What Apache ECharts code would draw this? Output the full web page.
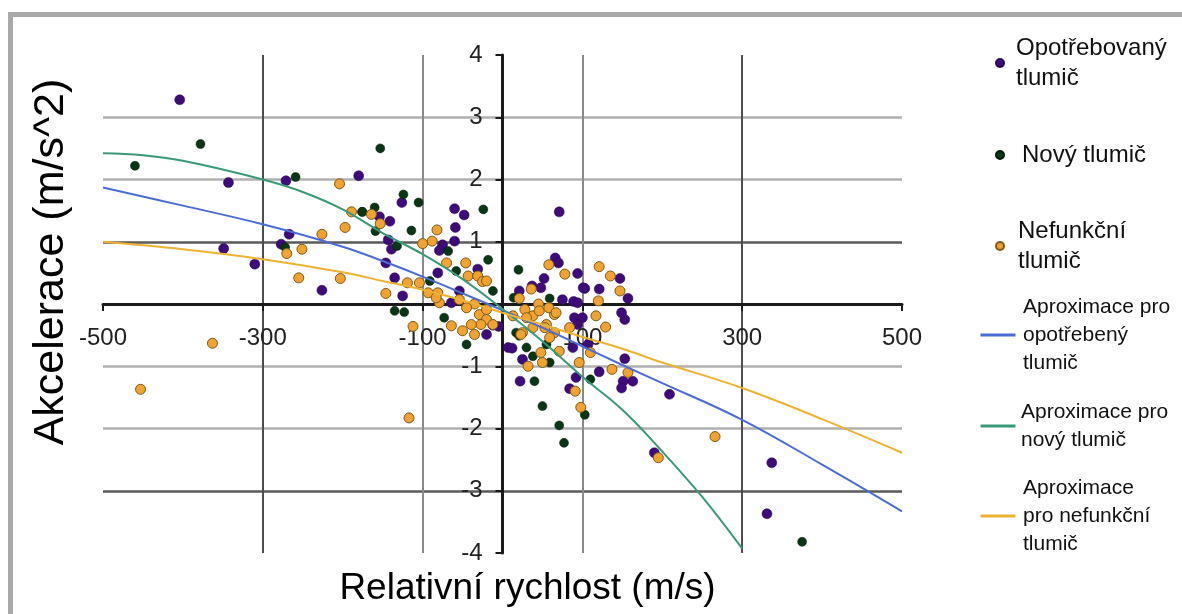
<!DOCTYPE html>
<html><head><meta charset="utf-8">
<script src="https://cdn.jsdelivr.net/npm/echarts@6/dist/echarts.min.js"></script>
<style>html,body{margin:0;padding:0;background:#fff}#c{width:1182px;height:614px}</style>
</head><body><div id="c"></div>
<script>
// ---- data ----
const wornPoints = [[-404,3.28],[-343,1.95],[-271,1.98],[-180,2.06],[-267,1.12],[-277,0.96],[-349,0.89],[-310,0.64],[-226,0.22],
[-126,1.63],[-60,1.53],[-48,1.43],[-154,1.40],[-141,1.33],[-59,1.23],[-60,1.01],[-143,1.03],[-139,0.88],[-75,0.95],[-79,0.86],[-146,0.66],[-135,0.42],[-125,0.13],[-81,0.50],[-31,0.56],[-54,0.21],
[-64,0.02],[-20,-0.49],[-12,-0.34],[-5,-0.36],[7,-0.70],
[71,1.48],[66,0.74],[70,0.66],[94,0.49],[52,0.41],[103,0.25],[121,0.24],[48,0.26],[21,0.21],[37,0.29],[147,0.41],[157,0.09],[75,0.07],[89,0.04],
[12,-0.71],[25,-0.89],[22,-1.24],[90,-0.22],[100,-0.22],[149,-0.14],[153,-0.25],[92,-1.18],[84,-1.36],[121,-1.09],[151,-1.24],[163,-1.24],[107,-0.65],[94,0.02],
[209,-1.45],[149,-1.35],[190,-2.39],[337,-2.55],[331,-3.37],[153,-0.88],[88,-0.70],[94,-0.33],[101,0.26]];
const newPoints = [[-460,2.22],[-378,2.57],[-259,2.04],[-272,0.91],[-176,1.48],[-153,2.50],
[-124,1.76],[-105,1.63],[-24,1.52],[-160,1.55],[-175,1.48],[-114,1.18],[-159,1.17],[-132,0.93],[-68,0.85],[-18,0.71],[-58,0.53],[-91,0.37],[-12,0.21],
[-135,-0.11],[-123,-0.13],[-73,-0.22],[-45,-0.65],
[20,0.55],[14,0.10],[59,0.09],
[30,-0.70],[38,-0.84],[59,-0.94],[40,-1.24],[50,-1.64],[71,-1.95],[77,-2.23],[103,-1.78],[110,-1.21],[17,-0.46],[55,-0.65],[21,-0.51],[375,-3.82]];
const brokenPoints = [[-204,1.93],[-189,1.48],[-197,1.23],[-226,1.12],[-251,0.88],[-270,0.81],[-255,0.42],[-203,0.41],
[-453,-1.37],[-363,-0.63],[-117,-1.83],
[-164,1.44],[-153,1.29],[-82,1.19],[-88,1.01],[-100,0.97],[-70,0.66],[-46,0.66],[-43,0.45],[-31,0.45],[-25,0.36],[-119,0.34],[-104,0.34],[-146,0.17],[-81,0.18],[-93,0.18],[-79,0.02],[-54,0.07],[-35,0.00],
[-20,0.37],[-83,0.10],[-45,-0.06],[-29,-0.17],[-20,-0.09],[-20,-0.25],[-27,-0.33],[-39,-0.33],[-50,-0.43],[-35,-0.49],[-64,-0.35],[-112,-0.36],[-12,-0.33],
[58,0.63],[78,0.48],[121,0.60],[135,0.45],[147,0.21],[36,0.24],[120,0.05],[21,0.09],[45,0.00],
[65,-0.17],[38,-0.19],[25,-0.46],[55,-0.33],[65,-0.46],[117,-0.19],[129,-0.37],[48,-0.78],[50,-0.94],[32,-1.00],[71,-0.76],[96,-0.94],[110,-0.78],[137,-1.05],[157,-1.10],[91,-1.40],[98,-1.66],[28,-0.09],[59,-0.54],[84,-0.38],
[266,-2.13],[195,-2.47],
[46,-0.11],[58,-0.06],[67,-0.14],[30,-0.22],[38,-0.38],[53,-0.38],[23,-0.49],[13,-0.19]];

const fitX = [-500,-400,-300,-200,-150,-100,-50,0,50,100,150,200,300,400,500];
const wornFit = [1.87,1.58,1.28,0.92,0.69,0.44,0.17,-0.10,-0.38,-0.68,-0.98,-1.27,-1.86,-2.58,-3.33];
const brokenFit = [1.00,0.88,0.72,0.51,0.37,0.23,0.06,-0.14,-0.33,-0.53,-0.72,-0.94,-1.35,-1.85,-2.39];
const newFitX = [-500,-450,-400,-300,-250,-200,-150,-100,-50,0,50,100,150,200,250,300];
const newFit = [2.42,2.39,2.30,2.00,1.80,1.52,1.14,0.80,0.40,-0.08,-0.60,-1.17,-1.70,-2.37,-3.10,-3.93];

const xTickLabels = ['-500','-300','-100','100','300','500'];
const yTickLabels = ['-4','-3','-2','-1','','1','2','3','4'];

const names = ['Opotřebovaný tlumič','Nový tlumič','Nefunkční tlumič',
  'Aproximace pro opotřebený tlumič','Aproximace pro nový tlumič','Aproximace pro nefunkční tlumič'];
const legendLabels = ['Opotřebovaný\ntlumič','Nový tlumič','Nefunkční\ntlumič',
  'Aproximace pro\nopotřebený\ntlumič','Aproximace pro\nnový tlumič','Aproximace\npro nefunkční\ntlumič'];

// ---- styling / layout ----
const FONT = "'Liberation Sans', Arial, sans-serif";
const C_PURPLE = '#3e0c78', C_GREEN = '#0b3616', C_ORANGE = '#f0a232';
const C_BLUE = '#4a6cd4', C_TEAL = '#3a9a78', C_YELLOW = '#eeb232';
const W = 1182, H = 614;
const G = { left: 103, right: 280, top: 55, bottom: 61 };
const gridW = W - G.left - G.right, gridH = H - G.top - G.bottom;
// axes cross at zero: both ranges are symmetric so zero sits in the middle
const xAxisOffset = -gridH / 2;
const yAxisOffset = -gridW / 2;

function legendItem(i, iconCx, iconCy, isLine, color, fontSize, lh, padTop, textLeft) {
  const lines = legendLabels[i].split('\n').length;
  const w = isLine ? 35 : 8, h = isLine ? 3 : 8;
  const left = iconCx - w / 2;
  const padLeft = textLeft - (left + w + 5);
  return {
    data: [{ name: names[i], icon: isLine ? 'rect' : 'circle', itemStyle: { color: color } }],
    left: left, top: iconCy - (lines * lh + padTop) / 2,
    padding: 0, itemWidth: w, itemHeight: h, selectedMode: false,
    formatter: legendLabels[i],
    textStyle: { fontFamily: FONT, fontSize: fontSize, lineHeight: lh, color: '#111',
      padding: [padTop, 0, 0, padLeft] }
  };
}

const chart = echarts.init(document.getElementById('c'), null, { renderer: 'canvas' });
chart.setOption({
  backgroundColor: '#fff',
  animation: false,
  graphic: [{ type: 'rect', silent: true, z: -10,
    shape: { x: 10.5, y: 14.5, width: 1400, height: 800 },
    style: { fill: 'none', stroke: '#a9a9a9', lineWidth: 5 } }],
  grid: { left: G.left, right: G.right, top: G.top, bottom: G.bottom, containLabel: false, outerBoundsMode: 'none' },
  legend: [
    legendItem(0, 999, 63, false, C_PURPLE, 24, 30, 29, 1015),
    legendItem(1, 999, 155, false, C_GREEN, 24, 30, 6, 1021),
    legendItem(2, 999, 246, false, C_ORANGE, 24, 30, 38, 1017),
    legendItem(3, 998, 335, true, C_BLUE, 21, 28, 24, 1023),
    legendItem(4, 998, 426, true, C_TEAL, 21, 28, 4, 1021),
    legendItem(5, 998, 516, true, C_YELLOW, 21, 28, 32, 1023)
  ],
  xAxis: {
    type: 'value', min: -500, max: 500, interval: 200, position: 'bottom', offset: xAxisOffset,
    name: 'Relativní rychlost (m/s)', nameLocation: 'middle', nameGap: 266,
    nameTextStyle: { fontFamily: FONT, fontSize: 37, color: '#000', padding: [0, 0, 0, 50] },
    axisLine: { onZero: false, lineStyle: { color: '#1a1a1a', width: 3 } },
    axisTick: { show: true, length: 7, lineStyle: { color: '#1a1a1a', width: 2 } },
    axisLabel: { fontFamily: FONT, fontSize: 24, color: '#222', margin: 22,
      formatter: (v) => { const i = Math.round((v + 500) / 200); return xTickLabels[i] !== undefined ? xTickLabels[i] : ''; } },
    splitLine: { show: true, showMinLine: false, showMaxLine: false,
      lineStyle: { color: ['#4d4d4d', '#8a8a8a', '#8a8a8a', '#4d4d4d'], width: 2 } }
  },
  yAxis: {
    type: 'value', min: -4, max: 4, interval: 1, position: 'left', offset: yAxisOffset,
    name: 'Akcelerace (m/s^2)', nameLocation: 'middle', nameGap: 430, nameRotate: 90,
    nameTextStyle: { fontFamily: FONT, fontSize: 43, color: '#000', padding: [0, 0, 0, 84] },
    axisLine: { onZero: false, lineStyle: { color: '#1a1a1a', width: 3 } },
    axisTick: { show: true, length: 7, lineStyle: { color: '#1a1a1a', width: 2 } },
    axisLabel: { fontFamily: FONT, fontSize: 24, color: '#222', margin: 20,
      formatter: (v) => yTickLabels[Math.round(v + 4)] },
    splitLine: { show: true, showMinLine: false, showMaxLine: false,
      lineStyle: { color: ['#5a5a5a', '#b0b0b0', '#b0b0b0', '#1a1a1a', '#5a5a5a', '#b0b0b0', '#b0b0b0'], width: 2.5 } }
  },
  series: [
    { name: names[0], type: 'scatter', data: wornPoints, symbolSize: 10,
      itemStyle: { color: C_PURPLE, borderColor: '#2a0555', borderWidth: 0.5, opacity: 1 } },
    { name: names[1], type: 'scatter', data: newPoints, symbolSize: 9,
      itemStyle: { color: C_GREEN, borderColor: '#051c09', borderWidth: 0.5, opacity: 1 } },
    { name: names[2], type: 'scatter', data: brokenPoints, symbolSize: 10,
      itemStyle: { color: C_ORANGE, borderColor: '#7d5a17', borderWidth: 1, opacity: 1 } },
    { name: names[3], type: 'line', data: fitX.map((x, i) => [x, wornFit[i]]), smooth: 0.4,
      symbol: 'none', lineStyle: { color: C_BLUE, width: 2 }, itemStyle: { color: C_BLUE }, z: 5 },
    { name: names[4], type: 'line', data: newFitX.map((x, i) => [x, newFit[i]]), smooth: 0.4,
      symbol: 'none', lineStyle: { color: C_TEAL, width: 2 }, itemStyle: { color: C_TEAL }, z: 5 },
    { name: names[5], type: 'line', data: fitX.map((x, i) => [x, brokenFit[i]]), smooth: 0.4,
      symbol: 'none', lineStyle: { color: C_YELLOW, width: 2 }, itemStyle: { color: C_YELLOW }, z: 5 }
  ]
});
</script></body></html>
